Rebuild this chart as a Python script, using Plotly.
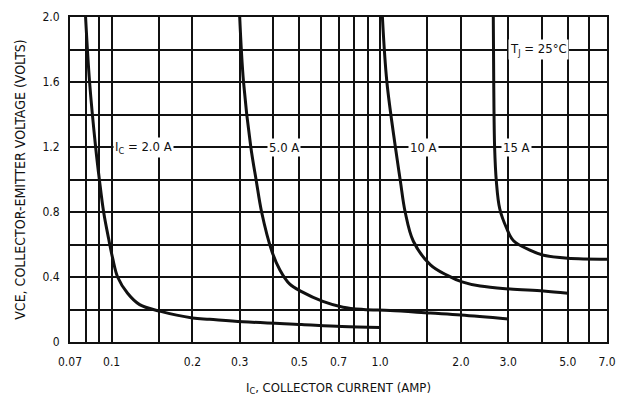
import math
import plotly.graph_objects as go

# ---- data ----
ic_2a_x = [0.080, 0.0828, 0.0872, 0.0902, 0.0934, 0.0975, 0.1009, 0.1053, 0.1147, 0.1272, 0.151, 0.2, 0.232, 0.308, 0.51, 0.72, 1.0]
ic_2a_y = [2.0, 1.6, 1.2, 0.99, 0.8, 0.635, 0.516, 0.4, 0.30, 0.23, 0.19, 0.148, 0.140, 0.125, 0.107, 0.095, 0.089]

ic_5a_x = [0.300, 0.310, 0.330, 0.346, 0.362, 0.395, 0.423, 0.461, 0.51, 0.612, 0.728, 0.867, 1.09, 1.54, 2.0, 3.0]
ic_5a_y = [2.0, 1.6, 1.2, 0.99, 0.8, 0.56, 0.445, 0.356, 0.31, 0.25, 0.214, 0.2, 0.194, 0.178, 0.166, 0.142]

ic_10a_x = [1.02, 1.06, 1.14, 1.19, 1.24, 1.33, 1.54, 1.78, 2.02, 2.36, 3.05, 4.06, 5.0]
ic_10a_y = [2.0, 1.6, 1.2, 0.99, 0.8, 0.62, 0.475, 0.41, 0.37, 0.344, 0.326, 0.314, 0.30]

ic_15a_x = [2.64, 2.65, 2.67, 2.71, 2.79, 2.96, 3.14, 3.63, 4.06, 5.0, 7.0]
ic_15a_y = [2.0, 1.6, 1.2, 0.99, 0.82, 0.70, 0.623, 0.564, 0.534, 0.516, 0.51]

x_grid = [0.07, 0.08, 0.09, 0.1, 0.15, 0.2, 0.3, 0.4, 0.5, 0.6, 0.7, 0.8, 0.9,
          1.0, 1.5, 2.0, 3.0, 4.0, 5.0, 6.0, 7.0]
x_labels = {0.07: "0.07", 0.1: "0.1", 0.2: "0.2", 0.3: "0.3", 0.5: "0.5", 0.7: "0.7",
            1.0: "1.0", 2.0: "2.0", 3.0: "3.0", 5.0: "5.0", 7.0: "7.0"}
y_grid = [0, 0.2, 0.4, 0.6, 0.8, 1.0, 1.2, 1.4, 1.6, 1.8, 2.0]
y_labels = {0: "0", 0.4: "0.4", 0.8: "0.8", 1.2: "1.2", 1.6: "1.6", 2.0: "2.0"}

curve_labels = ["I<sub>C</sub> = 2.0 A", "5.0 A", "10 A", "15 A", "T<sub>J</sub> = 25°C"]
curve_label_x = [0.132, 0.44, 1.45, 3.22, 3.9]
curve_label_y = [1.2, 1.2, 1.2, 1.2, 1.8]

FONT = "DejaVu Sans Condensed, Liberation Sans Narrow, sans-serif"

fig = go.Figure()
for xs, ys in [(ic_2a_x, ic_2a_y), (ic_5a_x, ic_5a_y), (ic_10a_x, ic_10a_y), (ic_15a_x, ic_15a_y)]:
    fig.add_trace(go.Scatter(x=xs, y=ys, mode="lines",
                             line=dict(color="#111", width=3, shape="spline", smoothing=1.0),
                             showlegend=False, hoverinfo="skip"))

for t, x, y in zip(curve_labels, curve_label_x, curve_label_y):
    fig.add_annotation(x=math.log10(x), y=y, xref="x", yref="y", text=t, showarrow=False,
                       bgcolor="white", borderpad=1,
                       font=dict(family=FONT, size=13, color="#111"))

fig.update_xaxes(type="log", range=[math.log10(0.07), math.log10(7.0)],
                 tickvals=x_grid, ticktext=[x_labels.get(v, "") for v in x_grid],
                 showgrid=True, gridcolor="#111", gridwidth=1.6,
                 showline=True, linecolor="#111", linewidth=2, mirror=True,
                 ticks="", ticklabelstandoff=8,
                 tickfont=dict(family=FONT, size=12, color="#111"),
                 zeroline=False,
                 title=dict(text="I<sub>C</sub>, COLLECTOR CURRENT (AMP)", standoff=14,
                            font=dict(family=FONT, size=13, color="#111")))
fig.update_yaxes(range=[0, 2.0],
                 tickvals=y_grid, ticktext=[y_labels.get(v, "") for v in y_grid],
                 showgrid=True, gridcolor="#111", gridwidth=1.6,
                 showline=True, linecolor="#111", linewidth=2, mirror=True,
                 ticks="", ticklabelstandoff=6,
                 tickfont=dict(family=FONT, size=12, color="#111"),
                 zeroline=False,
                 title=dict(text="VCE, COLLECTOR-EMITTER VOLTAGE (VOLTS)", standoff=14,
                            font=dict(family=FONT, size=14, color="#111")))

fig.update_layout(width=626, height=403, margin=dict(l=70, r=19, t=10, b=56),
                  paper_bgcolor="white", plot_bgcolor="white")

fig.write_html("out.html")
